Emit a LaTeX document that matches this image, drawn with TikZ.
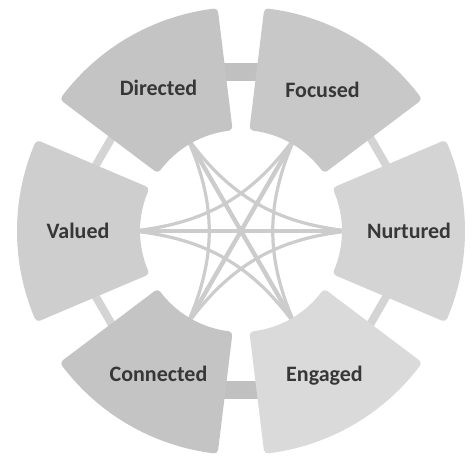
\documentclass[tikz,border=0pt]{standalone}
\usepackage{fontspec}
\setmainfont{Carlito}
\usetikzlibrary{backgrounds}
\definecolor{segMid}{RGB}{200,200,200}
\definecolor{segLight}{RGB}{212,212,212}
\definecolor{segPale}{RGB}{218,218,218}
\definecolor{linkGray}{RGB}{204,204,204}
\definecolor{barGray}{RGB}{192,192,192}
\definecolor{txtGray}{RGB}{55,55,55}

% one piece of the ring: #1 centre angle, #2 colour, #3 name
\newcommand{\ringseg}[3]{%
  \filldraw[fill=#2,draw=#2,line width=4pt,line join=round]
    ({#1-23}:105) -- ({#1-23}:220)
    arc[start angle={#1-23},end angle={#1+23},radius=220]
    -- ({#1+23}:105)
    arc[start angle={#1+23},end angle={#1-23},radius=105] -- cycle;
  \coordinate (#3-in)  at (#1:108);
  \coordinate (#3-cw)  at ({#1-20}:161);
  \coordinate (#3-ccw) at ({#1+20}:161);
}

\begin{document}
\begin{tikzpicture}[x=0.5pt,y=0.5pt,
  lbl/.style={font=\fontsize{11}{13}\selectfont\bfseries,text=txtGray},
  link/.style={draw=linkGray,line width=1.6pt},
  wide/.style={draw=linkGray,line width=2.2pt},
  bar/.style={draw=barGray,line width=9pt},
  thinbar/.style={draw=segLight,line width=4pt}
]
  \useasboundingbox (-241,-227) rectangle (234,231);

  \ringseg{0}{segLight}{nur}
  \ringseg{60}{segMid}{foc}
  \ringseg{120}{segMid!98!black}{dir}
  \ringseg{180}{segLight!97!black}{val}
  \ringseg{240}{segMid!98!black}{con}
  \ringseg{300}{segPale}{eng}

  \node[lbl](nur) at (0:168)   {Nurtured};
  \node[lbl](foc) at (60:163)  {Focused};
  \node[lbl](dir) at (120:165) {Directed};
  \node[lbl](val) at (180:163) {Valued};
  \node[lbl](con) at (240:165) {Connected};
  \node[lbl](eng) at (300:167) {Engaged};

  \begin{scope}[on background layer]
    % links round the ring
    \draw[bar](dir-cw)--(foc-ccw);
    \draw[bar](eng-cw)--(con-ccw);
    \draw[thinbar](foc-cw)--(nur-ccw);
    \draw[thinbar](nur-cw)--(eng-ccw);
    \draw[thinbar](con-cw)--(val-ccw);
    \draw[thinbar](val-cw)--(dir-ccw);
    % links across the middle
    \draw[wide](val-in)--(nur-in);
    \draw[wide](dir-in)--(eng-in);
    \draw[wide](foc-in)--(con-in);
    \draw[link](nur-in)to[bend right=24](con-in);
    \draw[link](foc-in)to[bend right=24](eng-in);
    \draw[link](dir-in)to[bend right=24](nur-in);
    \draw[link](val-in)to[bend right=24](foc-in);
    \draw[link](con-in)to[bend right=24](dir-in);
    \draw[link](eng-in)to[bend right=24](val-in);
  \end{scope}
\end{tikzpicture}
\end{document}
